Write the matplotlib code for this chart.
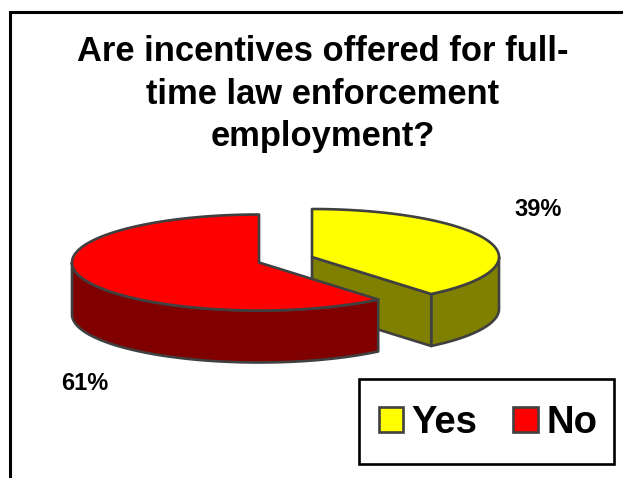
import numpy as np
import matplotlib
matplotlib.use("Agg")
import matplotlib.pyplot as plt
from matplotlib.patches import Polygon, Rectangle

plt.rcParams["font.family"] = ["Liberation Sans", "DejaVu Sans"]

title = "Are incentives offered for full-\ntime law enforcement\nemployment?"
categories = ["Yes", "No"]
values = [39, 61]
top_colors = ["#ffff00", "#ff0000"]
side_colors = ["#808000", "#800000"]
edge = "#404040"

W, H = 623, 478
fig = plt.figure(figsize=(W / 100, H / 100), dpi=100, facecolor="white")
ax = fig.add_axes([0, 0, 1, 1])
ax.set_xlim(0, W)
ax.set_ylim(H, 0)
ax.axis("off")

# Slide frame: only the top and left rules fall inside the canvas
ax.plot([9.5, 9.5, W], [H, 11.5, 11.5], color="black", lw=2.2, solid_joinstyle="miter")

ax.text(323, 94, title, ha="center", va="center", fontsize=24.85, fontweight="bold",
        linespacing=1.36, color="black")

# Projected pie: angles run clockwise from 12 o'clock
RX, RY, DEPTH = 187, 48, 52
centers = [(312, 257), (259, 262.5)]
lw = 1.9


def rim(center, a0, a1, n=160):
    t = np.radians(np.linspace(a0, a1, n))
    return np.column_stack([center[0] + RX * np.sin(t), center[1] - RY * np.cos(t)])


def patch(points, color, z):
    ax.add_patch(Polygon(points, closed=True, facecolor=color, edgecolor=edge, lw=lw,
                         joinstyle="round", zorder=z))


total = sum(values)
start = 0
for i, (value, center) in enumerate(zip(values, centers)):
    sweep = 360 * value / total
    a0, a1 = start, start + sweep
    z = 2 + 2 * i
    arc = rim(center, a0, a1)
    # Visible part of the outer wall lies on the lower half of the ellipse
    wall = rim(center, max(a0, 90), min(a1, 270))
    drop = wall + [0, DEPTH]
    patch(np.vstack([wall, drop[::-1]]), side_colors[i], z)
    if i == 0:
        # Cut face of the pulled-out slice
        tip = arc[-1]
        c = np.array(center)
        patch(np.array([c, tip, tip + [0, DEPTH], c + [0, DEPTH]]), side_colors[i], z)
    patch(np.vstack([[center], arc]), top_colors[i], z + 1)
    start = a1

ax.text(538, 210, f"{values[0]}%", ha="center", va="center", fontsize=17, fontweight="bold")
ax.text(85, 383, f"{values[1]}%", ha="center", va="center", fontsize=17, fontweight="bold")

# Legend box
ax.add_patch(Rectangle((358.5, 378.5), 255, 85.5, facecolor="white", edgecolor="black",
                       lw=1.9, zorder=6))
handles = [Rectangle((0, 0), 1, 1, facecolor=c, edgecolor=edge, lw=1.9) for c in top_colors]
ax.legend(handles, categories, loc="center", bbox_to_anchor=(488, 423),
          bbox_transform=ax.transData, ncol=2, frameon=False, prop={"size": 27.5, "weight": "bold"},
          handlelength=0.65, handleheight=0.65, handletextpad=0.22, columnspacing=0.93,
          borderpad=0, borderaxespad=0).set_zorder(7)

fig.savefig("out.png", dpi=100, facecolor="white")
